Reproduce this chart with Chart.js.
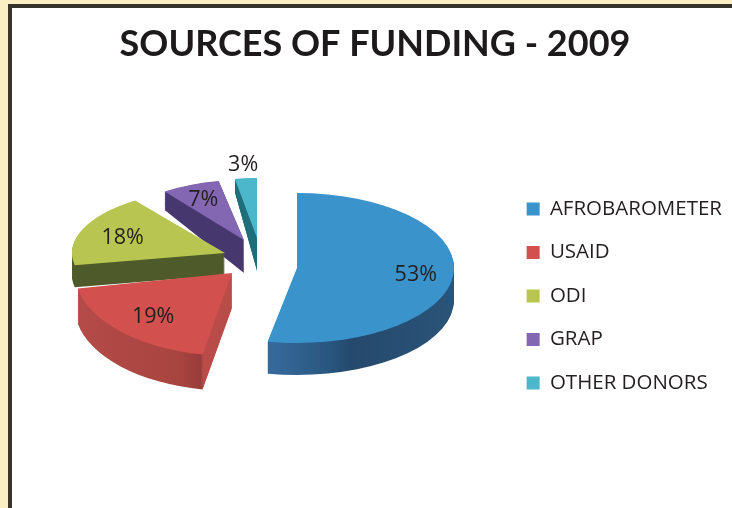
<!DOCTYPE html>
<html>
<head>
<meta charset="utf-8">
<script src="https://cdn.jsdelivr.net/npm/chart.js@4"></script>
<style>
  html, body { margin: 0; height: 100%; overflow: hidden; background: #f9efc2; }
  #frame { position: absolute; left: 8px; top: 4px; right: 0; bottom: 0; background: #fff;
           border-left: 4px solid #38332d; border-top: 4px solid #38332d; }
  #mychart { position: absolute; left: 0; top: 0; }
</style>
</head>
<body>
<div id="frame"></div>
<canvas id="mychart" width="732" height="508"></canvas>
<script>
const categories = ['AFROBAROMETER', 'USAID', 'ODI', 'GRAP', 'OTHER DONORS'];
const shares = [53, 19, 18, 7, 3];

const topColors = ['#3a93cb', '#d2504e', '#b8c651', '#8467b3', '#4cb6ca'];

// how each slice sits in the fake 3D view: apex, flattened radii, wall height, taper of the back wall
const sliceView = [
  { ax: 297, ay: 268, rx: 157, ry: 75, depth: 32, taper: 1,
    wall: [[.43, '#35699a'], [.6, '#2a5680'], [.67, '#25496d'], [1, '#2a5478']] },
  { ax: 232, ay: 273, rx: 157, ry: 83, depth: 35, taper: 1,
    wall: [[0, '#b44b48'], [.33, '#a8443f'], [.4, '#983d3b'], [.408, '#b94b49'], [1, '#b94b49']] },
  { ax: 225, ay: 253, rx: 153, ry: 65, depth: 22, taper: 1, wall: [[0, '#4e5a2a'], [1, '#4e5a2a']] },
  { ax: 244, ay: 240, rx: 135, ry: 60, depth: 33, taper: 1.3, wall: [[0, '#46386e'], [1, '#46386e']] },
  { ax: 257, ay: 238, rx: 118, ry: 60, depth: 33, taper: 1.34, wall: [[0, '#1f6e7a'], [1, '#1f6e7a']] }
];
const drawOrder = [4, 3, 2, 1, 0];
const labelReach = [.76, .71, .72, .76, 1.25];

function project(ctx, arc, v, shift, stretch) {
  ctx.translate(v.ax, v.ay + shift);
  ctx.scale(v.rx / arc.outerRadius, v.ry / arc.outerRadius * stretch);
  ctx.translate(-arc.x, -arc.y);
}

const pie3d = {
  id: 'pie3d',
  beforeDatasetsDraw(chart) {
    const ctx = chart.ctx;
    const arcs = chart.getDatasetMeta(0).data;
    drawOrder.forEach(i => {
      const arc = arcs[i], v = sliceView[i];
      const R = arc.outerRadius;
      const grad = ctx.createLinearGradient(arc.x - R, 0, arc.x + R, 0);
      v.wall.forEach(s => grad.addColorStop(s[0], s[1]));
      for (let d = v.depth; d >= 1; d--) {
        ctx.save();
        project(ctx, arc, v, d, 1 + (v.taper - 1) * d / v.depth);
        ctx.beginPath();
        ctx.moveTo(arc.x, arc.y);
        ctx.arc(arc.x, arc.y, R, arc.startAngle, arc.endAngle);
        ctx.closePath();
        ctx.fillStyle = grad;
        ctx.fill();
        ctx.restore();
      }
      ctx.save();
      project(ctx, arc, v, 0, 1);
      arc.draw(ctx);
      ctx.restore();
    });
    return false;
  },
  afterDraw(chart) {
    const ctx = chart.ctx;
    const arcs = chart.getDatasetMeta(0).data;
    ctx.save();
    ctx.font = '21.5px "Open Sans"';
    ctx.fillStyle = '#231f20';
    ctx.textAlign = 'center';
    ctx.textBaseline = 'middle';
    arcs.forEach((arc, i) => {
      const v = sliceView[i];
      const mid = (arc.startAngle + arc.endAngle) / 2;
      ctx.fillText(shares[i] + '%',
        v.ax + Math.cos(mid) * v.rx * labelReach[i],
        v.ay + Math.sin(mid) * v.ry * labelReach[i] + 2);
    });
    ctx.restore();
  }
};

new Chart(document.getElementById('mychart'), {
  type: 'pie',
  data: {
    labels: categories,
    datasets: [{ data: shares, backgroundColor: topColors, borderWidth: 0 }]
  },
  plugins: [pie3d],
  options: {
    responsive: false,
    animation: false,
    events: [],
    layout: { padding: { left: 18, right: 0 } },
    plugins: {
      tooltip: { enabled: false },
      title: {
        display: true,
        text: 'SOURCES OF FUNDING - 2009',
        color: '#1c1a1a',
        font: { family: 'Lato', weight: 'bold', size: 36 },
        padding: { top: 23, bottom: 18 }
      },
      legend: {
        position: 'right',
        fullSize: false,
        labels: {
          boxWidth: 13, boxHeight: 13,
          padding: 23,
          color: '#231f20',
          font: { family: 'Open Sans', size: 20.5 }
        }
      }
    }
  }
});
</script>
</body>
</html>
